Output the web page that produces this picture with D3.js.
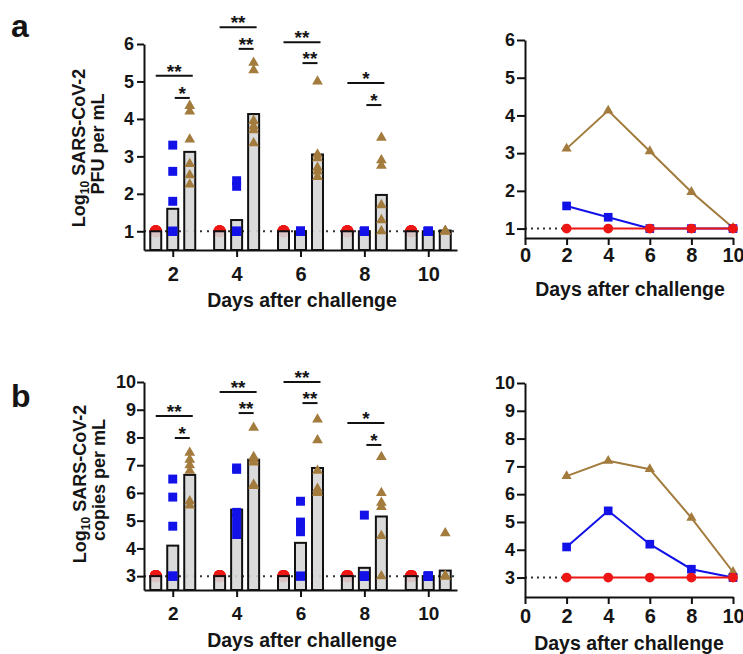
<!DOCTYPE html>
<html>
<head>
<meta charset="utf-8">
<script src="https://cdn.jsdelivr.net/npm/d3@7"></script>
<style>
  body { margin: 0; background: #fff; }
  text { font-family: "Liberation Sans", Arial, sans-serif; font-weight: bold; fill: #151515; }
</style>
</head>
<body>
<svg id="chart" width="743" height="654"></svg>
<script>
// days and groups
var days = [2, 4, 6, 8, 10];
var groups = ["red", "blue", "brown"];
var colors = {red: "#ee1515", blue: "#1212e8", brown: "#a27b3d"};

// panel a - PFU (log10), bar = group mean
var pfuBarRed = [1, 1, 1, 1, 1];
var pfuBarBlue = [1.6, 1.3, 1, 1, 1];
var pfuBarBrown = [3.12, 4.13, 3.05, 1.97, 1.02];

var pfuPtsRed = [[1,1,1,1,1,1], [1,1,1,1,1,1], [1,1,1,1,1,1], [1,1,1,1,1,1], [1,1,1,1,1,1]];
var pfuPtsBlue = [[3.3, 2.6, 1.8, 1, 1, 1], [2.35, 2.2, 1, 1, 1, 1], [1,1,1,1,1,1], [1,1,1,1,1,1], [1,1,1,1,1,1]];
var pfuPtsBrown = [[4.35, 4.2, 3.45, 2.8, 2.5, 2.25], [5.5, 5.3, 3.95, 3.8, 3.7, 3.35],
                   [5.0, 3.05, 2.95, 2.7, 2.6, 2.45], [3.5, 2.9, 2.75, 1.7, 1.3, 1.0], [1,1,1,1,1,1]];

var pfuSigLong = [5.15, 6.45, 6.05, 4.96];
var pfuSigShort = [4.56, 5.87, 5.49, 4.37];
var pfuSigLongLabel = ["**", "**", "**", "*"];
var pfuSigShortLabel = ["*", "**", "**", "*"];

// panel b - copies (log10)
var cpBarRed = [3, 3, 3, 3, 3];
var cpBarBlue = [4.1, 5.4, 4.2, 3.3, 3.0];
var cpBarBrown = [6.65, 7.2, 6.9, 5.15, 3.2];

var cpPtsRed = [[3,3,3,3,3,3], [3,3,3,3,3,3], [3,3,3,3,3,3], [3,3,3,3,3,3], [3,3,3,3,3,3]];
var cpPtsBlue = [[6.5, 5.85, 4.8, 3, 3, 3], [6.9, 6.85, 5.3, 5.1, 4.8, 4.5],
                 [5.7, 4.95, 4.8, 4.6, 3, 3], [5.2, 3, 3, 3, 3, 3], [3,3,3,3,3,3]];
var cpPtsBrown = [[7.45, 7.2, 7.0, 6.8, 5.7, 5.55], [8.35, 7.3, 7.2, 7.1, 6.3, 6.25],
                  [8.65, 7.9, 6.8, 6.15, 6.05, 6.0], [7.3, 6.0, 5.65, 5.5, 4.45, 3], [4.55, 3, 3, 3, 3, 3]];

var cpSigLong = [8.77, 9.64, 10.0, 8.52];
var cpSigShort = [7.98, 8.88, 9.24, 7.73];
var cpSigLongLabel = ["**", "**", "**", "*"];
var cpSigShortLabel = ["*", "**", "**", "*"];

var sigDays = [2, 4, 6, 8];

var pfuTicks = [1, 2, 3, 4, 5, 6];
var cpTicks = [3, 4, 5, 6, 7, 8, 9, 10];
var lineDayTicks = [0, 2, 4, 6, 8, 10];

var shapes = {red: d3.symbolCircle, blue: d3.symbolSquare, brown: d3.symbolTriangle};
var barSizes = {red: 115, blue: 80, brown: 50};

var svg = d3.select("#chart");

function styleAxis(ax, fontSize) {
  ax.selectAll("path, line").attr("stroke", "#111").attr("stroke-width", 2);
  ax.selectAll("text").style("font-size", fontSize + "px").attr("fill", "#151515");
}

function barPanel(cfg) {
  var g = svg.append("g").attr("transform", `translate(${cfg.left}, ${cfg.top})`);
  var w = cfg.width, h = cfg.height;

  var x = d3.scalePoint().domain(days).range([0, w]).padding(0.45);
  var xSub = d3.scalePoint().domain(groups).range([-17, 17]);
  var y = d3.scaleLinear().domain(cfg.yDomain).range([h, 0]);

  // limit of detection
  g.append("line")
    .attr("x1", 0).attr("x2", w)
    .attr("y1", y(cfg.lod)).attr("y2", y(cfg.lod))
    .attr("stroke", "#333").attr("stroke-width", 2)
    .attr("stroke-dasharray", "2,5");

  function drawPoints(grp) {
    var pts = [];
    cfg.points[grp].forEach(function(vals, i) {
      vals.forEach(function(v) { pts.push({day: days[i], v: v}); });
    });
    g.selectAll(null)
      .data(pts)
      .enter()
      .append("path")
      .attr("d", d3.symbol().type(shapes[grp]).size(barSizes[grp]))
      .attr("transform", d => `translate(${x(d.day) + xSub(grp)}, ${y(d.v)})`)
      .attr("fill", colors[grp]);
  }

  // red dots sit under the bars, the others on top
  drawPoints("red");

  groups.forEach(function(grp) {
    g.selectAll(null)
      .data(cfg.bars[grp])
      .enter()
      .append("rect")
      .attr("x", (d, i) => x(days[i]) + xSub(grp) - 5.5)
      .attr("width", 11)
      .attr("y", d => y(d))
      .attr("height", d => h - y(d))
      .attr("fill", "#d6d6d6")
      .attr("fill-opacity", 0.9)
      .attr("stroke", "#111")
      .attr("stroke-width", 2);
  });

  drawPoints("blue");
  drawPoints("brown");

  // axes
  var xAxis = g.append("g")
    .attr("transform", `translate(0, ${h})`)
    .call(d3.axisBottom(x).tickSize(7).tickSizeOuter(0));
  styleAxis(xAxis, cfg.xFont);
  xAxis.selectAll("text").attr("y", cfg.xLabelOffset).attr("dy", 0);

  var yAxis = g.append("g")
    .call(d3.axisLeft(y).tickValues(cfg.yTicks).tickFormat(d3.format("d"))
      .tickSize(7).tickPadding(cfg.yPad).tickSizeOuter(0));
  styleAxis(yAxis, cfg.yFont);

  // significance brackets
  sigDays.forEach(function(day, i) {
    var x1 = x(day) + xSub("red"), x2 = x(day) + xSub("brown") + 3;
    var sx1 = x(day) + xSub("blue") + 2, sx2 = x(day) + xSub("brown");
    g.append("line").attr("x1", x1).attr("x2", x2)
      .attr("y1", y(cfg.sigLong[i])).attr("y2", y(cfg.sigLong[i]))
      .attr("stroke", "#111").attr("stroke-width", 2);
    g.append("text").attr("x", (x1 + x2) / 2).attr("y", y(cfg.sigLong[i]) + 2)
      .attr("text-anchor", "middle").style("font-size", "19px")
      .text(cfg.sigLongLabel[i]);
    g.append("line").attr("x1", sx1).attr("x2", sx2)
      .attr("y1", y(cfg.sigShort[i])).attr("y2", y(cfg.sigShort[i]))
      .attr("stroke", "#111").attr("stroke-width", 2);
    g.append("text").attr("x", (sx1 + sx2) / 2).attr("y", y(cfg.sigShort[i]) + 2)
      .attr("text-anchor", "middle").style("font-size", "19px")
      .text(cfg.sigShortLabel[i]);
  });

  // x title
  g.append("text")
    .attr("x", cfg.xTitleX - cfg.left)
    .attr("y", cfg.xTitleY - cfg.top)
    .attr("text-anchor", "middle")
    .style("font-size", "19.5px")
    .text("Days after challenge");
}

function linePanel(cfg) {
  var g = svg.append("g").attr("transform", `translate(${cfg.left}, ${cfg.top})`);
  var w = cfg.width, h = cfg.height;

  var x = d3.scaleLinear().domain([0, 10]).range([0, w]);
  var y = d3.scaleLinear().domain(cfg.yDomain).range([h, 0]);

  g.append("line")
    .attr("x1", x(0)).attr("x2", x(2))
    .attr("y1", y(cfg.lod)).attr("y2", y(cfg.lod))
    .attr("stroke", "#333").attr("stroke-width", 2)
    .attr("stroke-dasharray", "2,4");

  var line = d3.line().x((d, i) => x(days[i])).y(d => y(d));

  ["brown", "blue", "red"].forEach(function(grp) {
    g.append("path")
      .datum(cfg.means[grp])
      .attr("d", line)
      .attr("fill", "none")
      .attr("stroke", colors[grp])
      .attr("stroke-width", 2);
    var size = grp == "red" ? 75 : (grp == "blue" ? 75 : 45);
    g.selectAll(null)
      .data(cfg.means[grp])
      .enter()
      .append("path")
      .attr("d", d3.symbol().type(shapes[grp]).size(size))
      .attr("transform", (d, i) => `translate(${x(days[i])}, ${y(d)})`)
      .attr("fill", colors[grp]);
  });

  var xAxis = g.append("g")
    .attr("transform", `translate(0, ${h})`)
    .call(d3.axisBottom(x).tickValues(lineDayTicks).tickSize(7).tickSizeOuter(0));
  styleAxis(xAxis, cfg.xFont);
  xAxis.selectAll("text").attr("y", cfg.xLabelOffset).attr("dy", 0);

  var yAxis = g.append("g")
    .call(d3.axisLeft(y).tickValues(cfg.yTicks).tickFormat(d3.format("d"))
      .tickSize(8).tickPadding(2).tickSizeOuter(0));
  styleAxis(yAxis, cfg.yFont);

  g.append("text")
    .attr("x", cfg.xTitleX - cfg.left)
    .attr("y", cfg.xTitleY - cfg.top)
    .attr("text-anchor", "middle")
    .style("font-size", "19.5px")
    .text("Days after challenge");
}

function yTitle(x1, x2, cy, line2) {
  var t = svg.append("text")
    .attr("transform", `translate(${x1}, ${cy}) rotate(-90)`)
    .attr("text-anchor", "middle")
    .style("font-size", "18px");
  t.append("tspan").text("Log");
  t.append("tspan").attr("dy", 4).style("font-size", "12px").text("10");
  t.append("tspan").attr("dy", -4).text(" SARS-CoV-2");
  svg.append("text")
    .attr("transform", `translate(${x2}, ${cy - 4}) rotate(-90)`)
    .attr("text-anchor", "middle")
    .style("font-size", "18px")
    .text(line2);
}

// panel a
barPanel({
  left: 144, top: 44, width: 313, height: 206,
  yDomain: [0.5, 6], yTicks: pfuTicks, lod: 1,
  bars: {red: pfuBarRed, blue: pfuBarBlue, brown: pfuBarBrown},
  points: {red: pfuPtsRed, blue: pfuPtsBlue, brown: pfuPtsBrown},
  sigLong: pfuSigLong, sigShort: pfuSigShort,
  sigLongLabel: pfuSigLongLabel, sigShortLabel: pfuSigShortLabel,
  xFont: 20, xLabelOffset: 31, yFont: 18, yPad: 3,
  xTitleX: 302, xTitleY: 307
});
linePanel({
  left: 525, top: 40, width: 208, height: 198,
  yDomain: [0.75, 6], yTicks: pfuTicks, lod: 1,
  means: {red: pfuBarRed, blue: pfuBarBlue, brown: pfuBarBrown},
  xFont: 20, xLabelOffset: 24, yFont: 18,
  xTitleX: 630, xTitleY: 296
});
yTitle(85, 104, 148, "PFU per mL");

// panel b
barPanel({
  left: 144, top: 382, width: 313, height: 208,
  yDomain: [2.5, 10], yTicks: cpTicks, lod: 3,
  bars: {red: cpBarRed, blue: cpBarBlue, brown: cpBarBrown},
  points: {red: cpPtsRed, blue: cpPtsBlue, brown: cpPtsBrown},
  sigLong: cpSigLong, sigShort: cpSigShort,
  sigLongLabel: cpSigLongLabel, sigShortLabel: cpSigShortLabel,
  xFont: 19, xLabelOffset: 30, yFont: 18, yPad: 1,
  xTitleX: 302, xTitleY: 647
});
linePanel({
  left: 525, top: 383, width: 208, height: 214,
  yDomain: [2.3, 10], yTicks: cpTicks, lod: 3,
  means: {red: cpBarRed, blue: cpBarBlue, brown: cpBarBrown},
  xFont: 20, xLabelOffset: 26, yFont: 18,
  xTitleX: 629, xTitleY: 650
});
yTitle(86, 105, 484, "copies per mL");

// panel letters
svg.append("text").attr("x", 11).attr("y", 37).style("font-size", "32px").text("a");
svg.append("text").attr("x", 11).attr("y", 407).style("font-size", "32px").text("b");
</script>
</body>
</html>
